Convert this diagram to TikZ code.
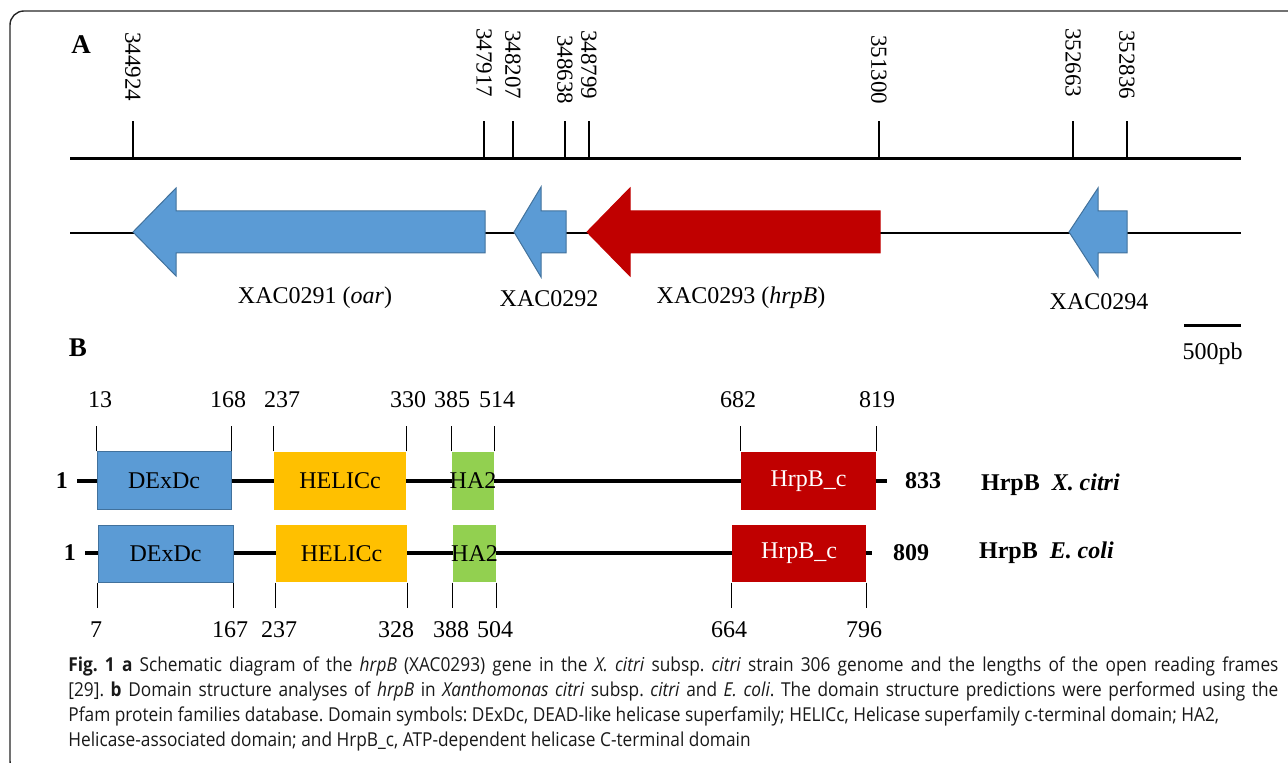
\documentclass[tikz,border=0pt]{standalone}
\usepackage{fontspec}
\setmainfont{Liberation Serif}
\newfontfamily\capfont[FakeStretch=0.9]{Open Sans}
\usetikzlibrary{positioning, fit}

\definecolor{geneblue}{HTML}{5B9BD5}
\definecolor{geneblueedge}{HTML}{41719C}
\definecolor{genered}{HTML}{C00000}
\definecolor{domyellow}{HTML}{FFC000}
\definecolor{domgreen}{HTML}{92D050}

\begin{document}
\begin{tikzpicture}[x=0.5pt, y=-0.5pt,
        every node/.style={font=\fontsize{12}{14}\selectfont},
        panel/.style={font=\fontsize{13.5}{15}\selectfont\bfseries},
        boldlabel/.style={font=\fontsize{12}{14}\selectfont\bfseries},
        poslabel/.style={rotate=-90, anchor=west, inner sep=0, font=\fontsize{11.5}{13}\selectfont},
        gene/.style={fill=geneblue, draw=geneblueedge, line width=0.5pt},
        hrpgene/.style={fill=genered, draw=genered, line width=0.5pt},
        dombox/.style={inner sep=0, line width=0.5pt},
        protline/.style={line width=2pt},
        postick/.style={line width=0.7pt}]
    \useasboundingbox (0,0) rectangle (1288,763);
    \draw[black!85, line width=0.7pt, rounded corners=7pt] (10,11) rectangle (1310,775);

    % A: genome positions
    \node[panel] (panelA) at (81,45) {A};
    \coordinate (mapL) at (70,159);
    \coordinate (mapR) at (1241,159);
    \draw[line width=1.5pt] (mapL) -- (mapR);
    \foreach \x/\pos/\top in {133/344924/32, 484/347917/28, 513/348207/30, 565/348638/35,
        589/348799/30, 879/351300/35, 1073/352663/28, 1127/352836/30}{
        \draw[postick] (\x,159) -- (\x,121);
        \node[poslabel] (p\pos) at (\x,\top) {\pos};
    }

    % A: genes
    \coordinate (geneL) at (70,233);
    \coordinate (geneR) at (1241,233);
    \draw[line width=1pt] (geneL) -- (geneR);
    \filldraw[gene] (133,232) -- (176,188) -- (176,211) -- (485,211) -- (485,253) -- (176,253) -- (176,276) -- cycle;
    \filldraw[gene] (514,232) -- (541,187) -- (541,211) -- (566,211) -- (566,253) -- (541,253) -- (541,277) -- cycle;
    \filldraw[hrpgene] (587,232) -- (630,188) -- (630,211) -- (880,211) -- (880,253) -- (630,253) -- (630,276) -- cycle;
    \filldraw[gene] (1069,232) -- (1098,188) -- (1098,211) -- (1127,211) -- (1127,253) -- (1098,253) -- (1098,277) -- cycle;
    \node (oar) at (315,298) {XAC0291 (\textit{oar})};
    \node (xac92) at (549,299) {XAC0292};
    \node (hrpB) at (741,298) {XAC0293 (\textit{hrpB})};
    \node (xac94) at (1099,302) {XAC0294};

    % scale bar
    \coordinate (barL) at (1184,326);
    \coordinate (barR) at (1241,326);
    \draw[line width=1.5pt] (barL) -- (barR);
    \path (barL) -- (barR) coordinate[midway] (barM);
    \node[below=5pt of barM] (bar) {500pb};

    % B: domains, X. citri
    \node[panel] (panelB) at (78,348) {B};
    \coordinate (xcL) at (77,481);
    \coordinate (xcR) at (887,481);
    \draw[protline] (xcL) -- (xcR);
    \node[boldlabel, left=1pt of xcL] (xcStart) {1};
    \node[boldlabel, right=5.5pt of xcR] (xcEnd) {833};
    \node[dombox, fill=geneblue, draw=geneblueedge, fit={(97,452) (231,510)}, label=center:DExDc] (xcDExDc) {};
    \node[dombox, fill=domyellow, fit={(274,452) (406,510)}, label=center:HELICc] (xcHELICc) {};
    \node[dombox, fill=domgreen, fit={(452,452) (494,510)}, label=center:HA2] (xcHA) {};
    \node[dombox, fill=genered, fit={(741,452) (876,510)}, label={[white]center:HrpB\_c}] (xcHrpB) {};
    \foreach \dom in {xcDExDc, xcHELICc, xcHA, xcHrpB}{
        \draw[postick] (\dom.north west) -- ++(0,-25);
        \draw[postick] (\dom.north east) -- ++(0,-25);
    }
    \foreach \x/\n in {100/13, 228/168, 282/237, 408/330, 452/385, 497/514, 738/682, 877/819}{
        \node (xcn\n) at (\x,400) {\n};
    }
    \node[boldlabel, anchor=west] (xcName) at (974,485) {HrpB\enspace\textit{X. citri}};

    % B: domains, E. coli
    \coordinate (ecL) at (85,553);
    \coordinate (ecR) at (872,553);
    \draw[protline] (ecL) -- (ecR);
    \node[boldlabel, left=1pt of ecL] (ecStart) {1};
    \node[boldlabel, right=7pt of ecR] (ecEnd) {809};
    \node[dombox, fill=geneblue, draw=geneblueedge, fit={(98,525) (233,582)}, label=center:DExDc] (ecDExDc) {};
    \node[dombox, fill=domyellow, fit={(276,525) (407,582)}, label=center:HELICc] (ecHELICc) {};
    \node[dombox, fill=domgreen, fit={(453,525) (496,582)}, label=center:HA2] (ecHA) {};
    \node[dombox, fill=genered, fit={(732,525) (866,582)}, label={[white]center:HrpB\_c}] (ecHrpB) {};
    \foreach \dom in {ecDExDc, ecHELICc, ecHA, ecHrpB}{
        \draw[postick] (\dom.south west) -- ++(0,25);
        \draw[postick] (\dom.south east) -- ++(0,25);
    }
    \foreach \x/\n in {96/7, 230/167, 279/237, 396/328, 451/388, 495/504, 729/664, 864/796}{
        \node (ecn\n) at (\x,630) {\n};
    }
    \node[boldlabel, anchor=west] (ecName) at (972,553) {HrpB\enspace\textit{E. coli}};

    % caption
    \node[anchor=north west, inner sep=0, align=left, text=black!90,
        font=\capfont\fontsize{9.6}{12.5}\selectfont\frenchspacing] (caption) at (68,656)
        {\hbox to 605pt{\textbf{Fig. 1} \textbf{a} Schematic diagram of the \textit{hrpB} (XAC0293) gene in the \textit{X. citri} subsp. \textit{citri} strain 306 genome and the lengths of the open reading frames}\\
        \hbox to 605pt{[29]. \textbf{b} Domain structure analyses of \textit{hrpB} in \textit{Xanthomonas citri} subsp. \textit{citri} and \textit{E. coli}. The domain structure predictions were performed using the}\\
        Pfam protein families database. Domain symbols: DExDc, DEAD-like helicase superfamily; HELICc, Helicase superfamily c-terminal domain; HA2,\\
        Helicase-associated domain; and HrpB\_c, ATP-dependent helicase C-terminal domain};
\end{tikzpicture}
\end{document}
